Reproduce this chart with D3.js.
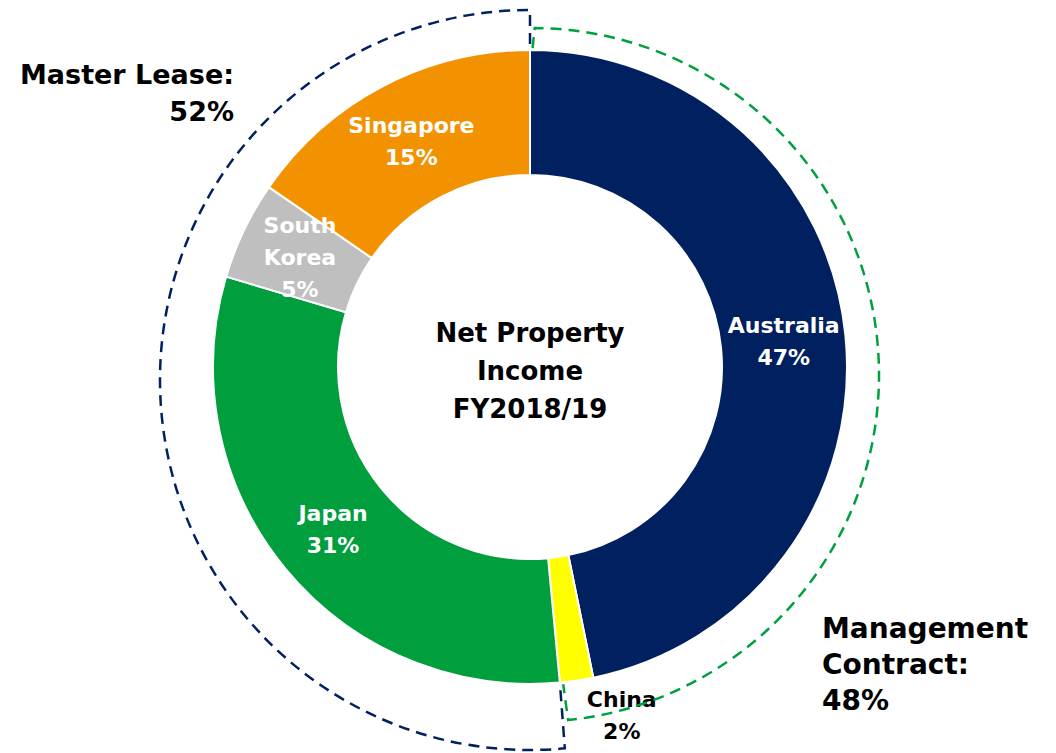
<!DOCTYPE html>
<html>
<head>
<meta charset="utf-8">
<script src="https://cdnjs.cloudflare.com/ajax/libs/d3/7.8.5/d3.min.js"></script>
<style>
  body { margin: 0; background: #fff; }
  text { font-family: "DejaVu Sans", sans-serif; font-weight: bold; }
</style>
</head>
<body>
<div id="chart"></div>
<script>
// NPI split by country, FY2018/19 (clockwise from 12 o'clock)
const countries = ["Australia", "China", "Japan", "South Korea", "Singapore"];
const shares = [46.8, 1.7, 31.1, 5.0, 15.4];
const pctLabels = ["47%", "2%", "31%", "5%", "15%"];
const colors = ["#002060", "#FFFF00", "#009E3D", "#BFBFBF", "#F39200"];
const labelLines = [["Australia"], ["China"], ["Japan"], ["South", "Korea"], ["Singapore"]];
const centreTitle = ["Net Property", "Income", "FY2018/19"];
const groups = [
    { name: ["Master Lease:", "52%"], members: ["Japan", "South Korea", "Singapore"], color: "#002060" },
    { name: ["Management", "Contract:", "48%"], members: ["Australia", "China"], color: "#00A040" }
];

const width = 1056, height = 753;
const cx = 530, cy = 367;
const outerR = 317, innerR = 192;

const svg = d3.select("#chart")
    .append("svg")
    .attr("width", width)
    .attr("height", height);

const data = countries.map((c, i) => ({ name: c, value: shares[i], pct: pctLabels[i], color: colors[i], lines: labelLines[i] }));

const pie = d3.pie().value(d => d.value).sort(null);
const arcs = pie(data);

const arc = d3.arc().innerRadius(innerR).outerRadius(outerR);

const g = svg.append("g").attr("transform", `translate(${cx},${cy})`);

g.selectAll("path.slice")
    .data(arcs)
    .enter()
    .append("path")
    .attr("class", "slice")
    .attr("d", arc)
    .attr("fill", d => d.data.color)
    .attr("stroke", "white")
    .attr("stroke-width", 2);

// angle helpers
const angleOf = name => arcs.find(a => a.data.name === name);
const pt = (ox, oy, r, a) => [ox + r * Math.sin(a), oy - r * Math.cos(a)];

// master lease dashed outline (goes round the left side)
const mlStart = angleOf("Japan").startAngle;
const mlEnd = 2 * Math.PI;
{
    const ox = cx, oy = cy + 13, r = 370;
    const p = d3.path();
    const a = pt(cx, cy, outerR + 6, mlEnd);
    const b = pt(ox, oy, r, mlEnd);
    p.moveTo(a[0], a[1]);
    p.lineTo(b[0], b[1]);
    p.arc(ox, oy, r, mlEnd - Math.PI / 2, mlStart - Math.PI / 2, true);
    const c = pt(cx, cy, outerR + 2, mlStart);
    p.lineTo(c[0], c[1]);
    svg.append("path")
        .attr("d", p.toString())
        .attr("fill", "none")
        .attr("stroke", groups[0].color)
        .attr("stroke-width", 2.5)
        .attr("stroke-dasharray", "11,7");
}

// management contract dashed outline (goes round the right side)
{
    const ox = cx + 2, oy = cy + 8, r = 347;
    const p = d3.path();
    const a0 = 0.008, a1 = mlStart - 0.01;
    const a = pt(cx, cy, outerR + 2, a0);
    const b = pt(ox, oy, r, a0);
    p.moveTo(a[0], a[1]);
    p.lineTo(b[0], b[1]);
    p.arc(ox, oy, r, a0 - Math.PI / 2, a1 - Math.PI / 2, false);
    const c = pt(cx, cy, outerR + 2, a1);
    p.lineTo(c[0], c[1]);
    svg.append("path")
        .attr("d", p.toString())
        .attr("fill", "none")
        .attr("stroke", groups[1].color)
        .attr("stroke-width", 2.5)
        .attr("stroke-dasharray", "11,7");
}

// slice labels
const labelArc = d3.arc().innerRadius(255).outerRadius(255);
const outsideArc = d3.arc().innerRadius(352).outerRadius(352);

arcs.forEach(d => {
    const small = d.data.value < 3;
    let [lx, ly] = small ? outsideArc.centroid(d) : labelArc.centroid(d);
    if (small) lx += 40;
    const lines = d.data.lines.concat([d.data.pct]);
    const lh = 32;
    const t = g.append("text")
        .attr("text-anchor", "middle")
        .attr("fill", small ? "#000" : "#fff")
        .style("font-size", "22px");
    lines.forEach((s, i) => {
        t.append("tspan")
            .attr("x", lx)
            .attr("y", ly + (i - (lines.length - 1) / 2) * lh)
            .attr("dy", "0.35em")
            .text(s);
    });
});

// centre title
const title = svg.append("text")
    .attr("text-anchor", "middle")
    .attr("fill", "#000")
    .style("font-size", "26px");
centreTitle.forEach((s, i) => {
    title.append("tspan")
        .attr("x", cx)
        .attr("y", 342 + i * 38)
        .text(s);
});

// group labels
const ml = svg.append("text")
    .attr("text-anchor", "end")
    .attr("fill", "#000")
    .style("font-size", "27px");
groups[0].name.forEach((s, i) => {
    ml.append("tspan").attr("x", 234).attr("y", 84 + i * 37).text(s);
});

const mc = svg.append("text")
    .attr("text-anchor", "start")
    .attr("fill", "#000")
    .style("font-size", "28px");
groups[1].name.forEach((s, i) => {
    mc.append("tspan").attr("x", 822).attr("y", 638 + i * 36).text(s);
});
</script>
</body>
</html>
